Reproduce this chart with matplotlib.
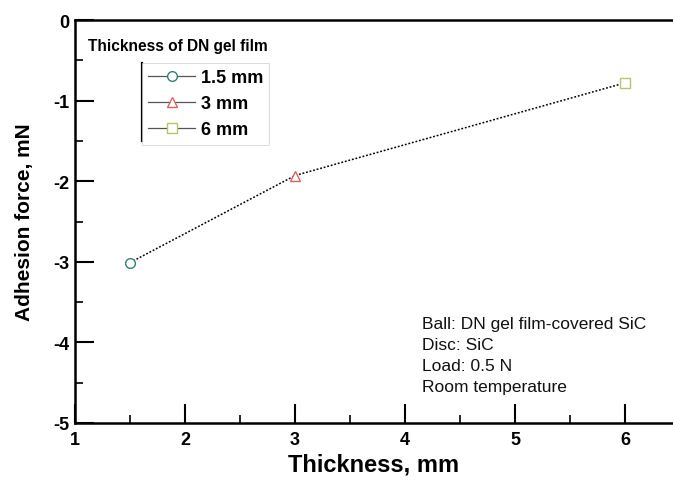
import matplotlib.pyplot as plt
from matplotlib.lines import Line2D

# data
thickness = [1.5, 3, 6]
adhesion = [-3.01, -1.93, -0.78]
labels = ["1.5 mm", "3 mm", "6 mm"]
markers = ["o", "^", "s"]
colors = ["#2f7f7a", "#e06060", "#b8c46a"]
xticks = [1, 2, 3, 4, 5, 6]
yticks = [0, -1, -2, -3, -4, -5]

plt.rcParams["font.family"] = ["Liberation Sans", "DejaVu Sans"]
plt.rcParams["font.weight"] = "bold"
plt.rcParams["axes.unicode_minus"] = False

W, H = 673, 485
fig = plt.figure(figsize=(W / 100, H / 100), dpi=100)
ax = fig.add_axes([75 / W, 1 - 424 / H, 1 - 75 / W, (424 - 21) / H])

# dotted connecting line
ax.plot(thickness, adhesion, ls=(0, (1.2, 1.2)), color="black", lw=1.1, zorder=2)

handles = []
for x, y, lab, m, c in zip(thickness, adhesion, labels, markers, colors):
    ax.plot([x], [y], marker=m, ms=7, mfc="white", mec=c, mew=1.0, ls="none", zorder=3)
    handles.append(Line2D([], [], color="#555555", lw=0.9, marker=m, ms=7,
                          mfc="white", mec=c, mew=1.0))

ax.set_xlim(1, 1 + (W - 75) / 110)
ax.set_ylim(-5, 0)
ax.set_xticks(xticks)
ax.set_yticks(yticks)
ax.set_xticks([1.5, 2.5, 3.5, 4.5, 5.5], minor=True)
ax.set_yticks([-0.5, -1.5, -2.5, -3.5, -4.5], minor=True)
ax.tick_params(which="major", direction="in", length=14, width=1.5,
               labelsize=13, pad=4)
ax.tick_params(axis="x", which="major", pad=6)
ax.tick_params(which="minor", direction="in", length=6, width=1.2)
for t in ax.get_xticklabels() + ax.get_yticklabels():
    t.set_fontweight("bold")

for s in ["left", "bottom", "top"]:
    ax.spines[s].set_linewidth(1.8)
ax.spines["right"].set_visible(False)

ax.set_xlabel("Thickness, mm", fontsize=17, fontweight="bold", labelpad=3)
ax.set_ylabel("Adhesion force, mN", fontsize=15, fontweight="bold", labelpad=14)

# legend
fig.text(88 / W, 1 - 46 / H, "Thickness of DN gel film", fontsize=11.2,
         fontweight="bold", va="center", ha="left")
leg = fig.legend(handles, labels, loc="upper left",
                 bbox_to_anchor=(142 / W, 1 - 64 / H),
                 frameon=True, fancybox=False, edgecolor="#cccccc",
                 handlelength=2.6, handletextpad=0.3, labelspacing=0.5,
                 borderpad=0.35, borderaxespad=0,
                 prop={"size": 13, "weight": "bold"})
leg.get_frame().set_linewidth(0.6)
fig.add_artist(Line2D([142 / W, 142 / W], [1 - 64 / H, 1 - 142 / H],
                      color="black", lw=1.6, transform=fig.transFigure))

# conditions
note = "Ball: DN gel film-covered SiC\nDisc: SiC\nLoad: 0.5 N\nRoom temperature"
ax.text(0.58, 0.072, note, transform=ax.transAxes, fontsize=12.5,
        fontweight="normal", linespacing=1.5, va="bottom", ha="left",
        color="#111111")

fig.savefig("out.png", dpi=100)
